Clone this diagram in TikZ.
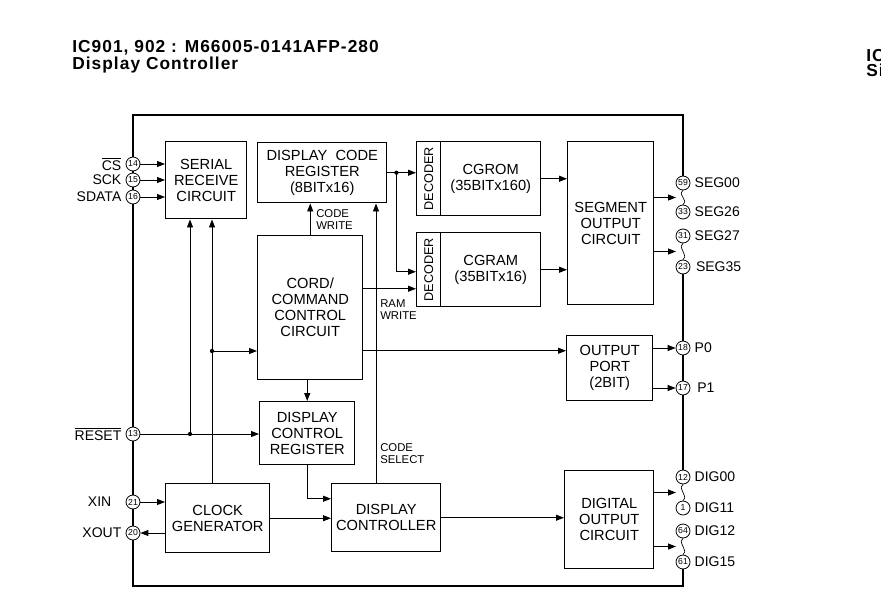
\documentclass[tikz,border=0pt]{standalone}
\usepackage{fontspec}
\setmainfont{Liberation Sans}
\newfontfamily\titlefont[LetterSpace=6]{Liberation Sans}
\usetikzlibrary{arrows.meta,positioning,calc}
\newcommand{\pxu}{0.75pt}

\begin{document}
\begin{tikzpicture}[x=0.75pt,y=-0.75pt,>={Triangle[length=6pt,width=4.5pt]}]
\tikzset{blk/.style={draw,line width=1.1pt,inner sep=0pt,align=center,anchor=north west,font=\fontsize{11}{12}\selectfont},
  dec/.style={blk,minimum width=24*\pxu,minimum height=74*\pxu,font=\fontsize{9.5}{10}\selectfont},
  arr/.style={->,line width=0.7pt},frm/.style={line width=1.4pt},wave/.style={line width=0.5pt},
  pinc/.style={circle,draw,line width=0.6pt,fill=white,inner sep=0pt,minimum size=14*\pxu,font=\fontsize{6.5}{7}\selectfont},
  lbl/.style={inner sep=1pt,font=\fontsize{10.5}{12}\selectfont},
  sml/.style={inner sep=0pt,align=left,anchor=north west,font=\fontsize{8.5}{9}\selectfont},
  ttl/.style={inner sep=0pt,align=left,anchor=north west,font=\titlefont\bfseries\fontsize{13}{11.3}\selectfont}}
\useasboundingbox (0,0) rectangle (881,603);
\node[ttl] (ttl) at (72,40.5) {IC901, 902 : M66005-0141AFP-280\\Display Controller};
\node[ttl] (ttr) at (866,49.5) {IC\\Si};
\coordinate (ftl) at (133,115); \coordinate (ftr) at (683,115); \coordinate (fbl) at (133,586); \coordinate (fbr) at (683,586);
\node[blk,minimum width=81*\pxu,minimum height=77*\pxu] (ser) at (165,141) {SERIAL\\RECEIVE\\CIRCUIT};
\node[blk,minimum width=129*\pxu,minimum height=60*\pxu] (dcr) at (257,142) {DISPLAY~~CODE\\REGISTER\\(8BITx16)};
\node[dec] (drom) at (416,141) {\rotatebox{90}{DECODER}};
\node[blk,minimum width=100*\pxu,minimum height=74*\pxu] (cgrom) at (440,141) {CGROM\\(35BITx160)};
\node[dec] (dram) at (416,232) {\rotatebox{90}{DECODER}};
\node[blk,minimum width=100*\pxu,minimum height=74*\pxu] (cgram) at (440,232) {CGRAM\\(35BITx16)};
\node[blk,minimum width=86*\pxu,minimum height=163*\pxu] (seg) at (567,141) {SEGMENT\\OUTPUT\\CIRCUIT};
\node[blk,minimum width=105*\pxu,minimum height=144*\pxu] (cmd) at (257,235) {CORD/\\COMMAND\\CONTROL\\CIRCUIT};
\node[blk,minimum width=86*\pxu,minimum height=65*\pxu] (oport) at (566,335) {OUTPUT\\PORT\\(2BIT)};
\node[blk,minimum width=95*\pxu,minimum height=63*\pxu] (dctl) at (259,401) {DISPLAY\\CONTROL\\REGISTER};
\node[blk,minimum width=104*\pxu,minimum height=69*\pxu] (clk) at (165,483) {CLOCK\\GENERATOR};
\node[blk,minimum width=109*\pxu,minimum height=68*\pxu] (disp) at (331,483) {DISPLAY\\CONTROLLER};
\node[blk,minimum width=89*\pxu,minimum height=98*\pxu] (dig) at (564,470) {DIGITAL\\OUTPUT\\CIRCUIT};
\node[pinc] (p14) at (133,164) {14}; \node[pinc] (p15) at (133,180) {15}; \node[pinc] (p16) at (133,197) {16};
\node[pinc] (p13) at (133,434) {13}; \node[pinc] (p21) at (133,502) {21}; \node[pinc] (p20) at (133,533) {20};
\node[pinc] (p59) at (683,183) {59}; \node[pinc] (p33) at (683,212) {33}; \node[pinc] (p31) at (683,236) {31}; \node[pinc] (p23) at (683,267) {23};
\node[pinc] (p18) at (683,348) {18}; \node[pinc] (p17) at (683,388) {17};
\node[pinc] (p12) at (683,477) {12}; \node[pinc] (p1) at (683,508) {1}; \node[pinc] (p64) at (683,531) {64}; \node[pinc] (p61) at (683,562) {61};
\node[lbl,left=2pt of p14] (lcs) {$\overline{\mbox{CS}}$}; \node[lbl,left=2pt of p15] (lsck) {SCK}; \node[lbl,left=2pt of p16] (lsd) {SDATA};
\node[lbl,left=2pt of p13] (lrst) {$\overline{\mbox{RESET}}$}; \node[lbl,left=9.5pt of p21] (lxin) {XIN}; \node[lbl,left=2pt of p20] (lxout) {XOUT};
\node[lbl,right=2pt of p59] (l59) {SEG00}; \node[lbl,right=2pt of p33] (l33) {SEG26}; \node[lbl,right=2pt of p31] (l31) {SEG27}; \node[lbl,right=3pt of p23] (l23) {SEG35};
\node[lbl,right=2pt of p18] (l18) {P0}; \node[lbl,right=4pt of p17] (l17) {P1};
\node[lbl,right=2pt of p12] (l12) {DIG00}; \node[lbl,right=2pt of p1] (l1) {DIG11}; \node[lbl,right=2pt of p64] (l64) {DIG12}; \node[lbl,right=2pt of p61] (l61) {DIG15};
\draw[frm] (p14) -- (ftl) -- (ftr) -- (p59);
\draw[frm] (p14) -- (p15) -- (p16) -- (p13) -- (p21) -- (p20) -- (fbl) -- (fbr) -- (p61);
\draw[frm] (p23) -- (p18) -- (p17) -- (p12);
\coordinate (w1) at ($(p59)!.5!(p33)$); \coordinate (w2) at ($(p31)!.5!(p23)$);
\coordinate (w3) at ($(p12)!.5!(p1)$); \coordinate (w4) at ($(p64)!.5!(p61)$);
\draw[wave] (p59.south) .. controls +(-4,4) and +(0,-3) .. (w1) .. controls +(0,3) and +(4,-4) .. (p33.north);
\draw[wave] (p31.south) .. controls +(-4,4) and +(0,-3) .. (w2) .. controls +(0,3) and +(4,-4) .. (p23.north);
\draw[wave] (p12.south) .. controls +(-4,4) and +(0,-3) .. (w3) .. controls +(0,3) and +(4,-4) .. (p1.north);
\draw[wave] (p64.south) .. controls +(-4,4) and +(0,-3) .. (w4) .. controls +(0,3) and +(4,-4) .. (p61.north);
\draw[arr] (p14) -- (p14 -| ser.west); \draw[arr] (p15) -- (p15 -| ser.west); \draw[arr] (p16) -- (p16 -| ser.west);
\coordinate (rdot) at (190,434); \coordinate (cdot) at (212,351);
\draw[arr] (p13) -- (p13 -| dctl.west); \draw[arr] (rdot) -- (rdot |- ser.south);
\draw[arr] (clk.north -| cdot) -- (cdot |- ser.south); \draw[arr] (cdot) -- (cdot -| cmd.west);
\fill (rdot) circle (1.6pt); \fill (cdot) circle (1.6pt);
\draw[arr] (cmd.north) -- (cmd.north |- dcr.south);
\node[sml] (cw) at (316,209) {CODE\\WRITE};
\coordinate (cs) at ($(disp.north west)+(45,0)$);
\draw[arr] (cs) -- (cs |- dcr.south);
\node[sml] (csl) at (380,443) {CODE\\SELECT};
\draw[arr] (dcr.east) -- (dcr.east -| drom.west);
\coordinate (bdot) at ($(dcr.east)+(9,0)$);
\draw[arr] (bdot) |- ($(dram.west)+(0,2)$); \fill (bdot) circle (1.6pt);
\coordinate (rw) at ($(dram.west)+(0,19)$);
\draw[arr] (cmd.east |- rw) -- (rw);
\node[sml] (rwl) at (380,299) {RAM\\WRITE};
\draw[arr] (cgrom.east) -- (cgrom.east -| seg.west); \draw[arr] (cgram.east) -- (cgram.east -| seg.west);
\coordinate (op) at ($(oport.west)+(0,-17.5)$);
\draw[arr] (cmd.east |- op) -- (op);
\draw[arr] (dctl.north |- cmd.south) -- (dctl.north);
\draw[arr] (dctl.south) |- ($(disp.west)+(0,-19)$);
\draw[arr] (clk.east) -- (clk.east -| disp.west);
\draw[arr] (p21) -- (p21 -| clk.west); \draw[arr] (p20 -| clk.west) -- (p20);
\draw[arr] (disp.east) -- (disp.east -| dig.west);
\draw[arr] (oport.east |- p18) -- (p18); \draw[arr] (oport.east |- p17) -- (p17);
\draw[arr] (seg.east |- w1) -- ($(w1)+(-7,0)$); \draw[arr] (seg.east |- w2) -- ($(w2)+(-7,0)$);
\draw[arr] (dig.east |- w3) -- ($(w3)+(-7,0)$); \draw[arr] (dig.east |- w4) -- ($(w4)+(-7,0)$);
\end{tikzpicture}
\end{document}
